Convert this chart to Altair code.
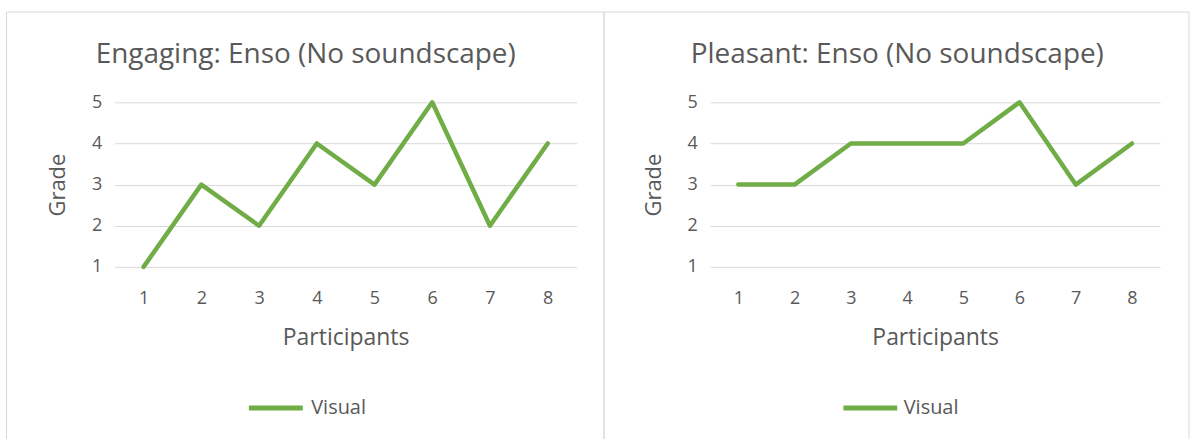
import altair as alt
import pandas as pd

participants = [1, 2, 3, 4, 5, 6, 7, 8]
engaging = [1, 3, 2, 4, 3, 5, 2, 4]
pleasant = [3, 3, 4, 4, 4, 5, 3, 4]
series_name = "Visual"
titles = ["Engaging: Enso (No soundscape)", "Pleasant: Enso (No soundscape)"]
grade_ticks = [1, 2, 3, 4, 5]

FONT = "Open Sans"
TEXT = "#595959"
GRID = "#D9D9D9"
GREEN = "#70AD47"
PLOT_H = 165


def panel(values, title, width, title_dx, legend_x, label_offset, bx1, bx2):
    df = pd.DataFrame({
        "Participants": participants,
        "Grade": values,
        "series": [series_name] * len(values),
    })
    frame = alt.Chart(pd.DataFrame({"k": [0]})).mark_rect(
        filled=False, stroke=GRID, strokeWidth=1
    ).encode(
        x=alt.value(bx1), x2=alt.value(bx2),
        y=alt.value(-90.5), y2=alt.value(345),
    )
    line = alt.Chart(df).mark_line(
        strokeWidth=4.5, strokeCap="round", strokeJoin="round"
    ).encode(
        x=alt.X("Participants:O", axis=alt.Axis(
            labelAngle=0, title="Participants", grid=False,
            labelFontSize=18, labelPadding=23,
            titleFontSize=23, titlePadding=19,
        )),
        y=alt.Y("Grade:Q",
                scale=alt.Scale(domain=[1, 5], nice=False, zero=False),
                axis=alt.Axis(
                    values=grade_ticks, title="Grade", grid=True,
                    gridColor=GRID, gridWidth=1,
                    labelFontSize=18, labelPadding=13,
                    titleFontSize=22, titlePadding=22,
                )),
        color=alt.Color("series:N",
                        scale=alt.Scale(range=[GREEN]),
                        legend=alt.Legend(
                            orient="none", legendX=legend_x, legendY=277,
                            title=None, symbolType="stroke",
                            symbolSize=2916, symbolStrokeWidth=5,
                            labelFontSize=20, labelColor=TEXT, labelFont=FONT,
                            labelOffset=label_offset, padding=0,
                        )),
    )
    return alt.layer(frame, line).properties(
        width=width, height=PLOT_H,
        title=alt.TitleParams(title, dx=title_dx, dy=92, offset=34, fontSize=28,
                              anchor="middle", frame="group", color=TEXT,
                              font=FONT, fontWeight="normal"),
    )


left = panel(engaging, titles[0], 463, -40, 132, 6, -108.5, 490.5)
right = panel(pleasant, titles[1], 451, -38, 131, 4, -106.5, 480)

chart = alt.hconcat(left, right, spacing=134, bounds="flush").resolve_scale(
    color="independent"
).resolve_legend(color="independent").properties(
    padding={"left": 6, "top": 11, "right": 0, "bottom": 0},
    background="white",
).configure_view(stroke=None).configure_axis(
    domain=False, ticks=False, labelColor=TEXT, titleColor=TEXT,
    labelFont=FONT, titleFont=FONT, titleFontWeight="normal",
)

chart.save("out.html", embed_options={"renderer": "svg", "actions": False})
